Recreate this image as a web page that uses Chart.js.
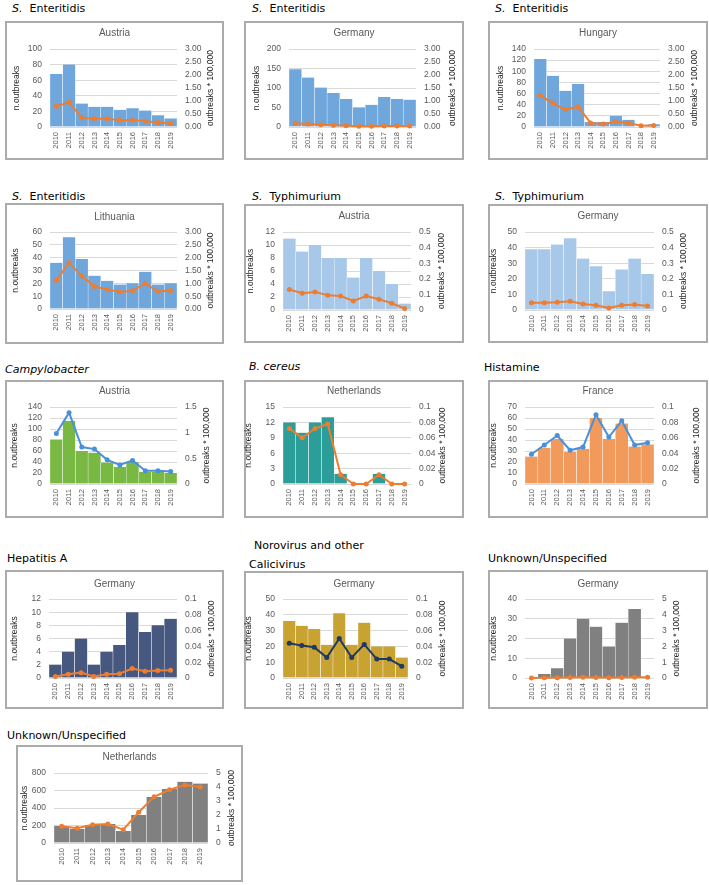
<!DOCTYPE html>
<html>
<head>
<meta charset="utf-8">
<script src="https://cdn.jsdelivr.net/npm/chart.js@4.4.0/dist/chart.umd.min.js"></script>
<style>
  body { margin: 0; background: #fff; width: 709px; height: 885px; position: relative; overflow: hidden; font-family: "DejaVu Sans", sans-serif; }
  .sec { position: absolute; font-size: 11px; line-height: 13px; color: #000; white-space: nowrap; }
  .box { position: absolute; border: 2px solid #ABABAB; box-sizing: border-box; }
  canvas { position: absolute; }
</style>
</head>
<body>
<script>
const years = ['2010', '2011', '2012', '2013', '2014', '2015', '2016', '2017', '2018', '2019'];

// S. Enteritidis
const entAustriaOutbreaks = [68, 80, 30, 26, 26, 22, 24, 21, 15, 11];
const entAustriaRate = [0.80, 0.95, 0.36, 0.32, 0.32, 0.26, 0.27, 0.22, 0.17, 0.13];
const entGermanyOutbreaks = [148, 127, 101, 87, 72, 50, 57, 77, 72, 70];
const entGermanyRate = [0.14, 0.12, 0.09, 0.07, 0.05, 0.03, 0.03, 0.04, 0.04, 0.04];
const entHungaryOutbreaks = [122, 92, 65, 77, 9, 9, 20, 13, 1, 5];
const entHungaryRate = [1.21, 0.92, 0.66, 0.78, 0.15, 0.12, 0.20, 0.15, 0.05, 0.06];
const entLithuaniaOutbreaks = [36, 56, 39, 26, 22, 19, 20, 29, 19, 20];
const entLithuaniaRate = [1.11, 1.80, 1.29, 0.88, 0.76, 0.66, 0.71, 1.00, 0.68, 0.72];

// S. Typhimurium
const typAustriaOutbreaks = [11, 9, 10, 8, 8, 5, 8, 6, 4, 1];
const typAustriaRate = [0.131, 0.107, 0.116, 0.094, 0.09, 0.058, 0.09, 0.069, 0.043, 0.009];
const typGermanyOutbreaks = [39, 39, 42, 46, 33, 28, 12, 26, 33, 23];
const typGermanyRate = [0.047, 0.047, 0.05, 0.056, 0.039, 0.03, 0.013, 0.03, 0.036, 0.026];

// Campylobacter, B. cereus, Histamine
const campyAustriaOutbreaks = [81, 115, 60, 57, 39, 31, 40, 22, 22, 20];
const campyAustriaRate = [0.985, 1.39, 0.72, 0.68, 0.47, 0.37, 0.46, 0.26, 0.26, 0.245];
const cereusNetherlandsOutbreaks = [12, 10, 12, 13, 2, 0, 0, 2, 0, 0];
const cereusNetherlandsRate = [0.072, 0.06, 0.072, 0.078, 0.012, 0, 0, 0.012, 0, 0];
const histamineFranceOutbreaks = [25, 33, 41, 29, 32, 60, 41, 55, 34, 36];
const histamineFranceRate = [0.0386, 0.0506, 0.063, 0.0438, 0.048, 0.09, 0.061, 0.082, 0.0506, 0.0536];

// Hepatitis A, Norovirus, Unknown
const hepGermanyOutbreaks = [2, 4, 6, 2, 4, 5, 10, 7, 8, 9];
const hepGermanyRate = [0.002, 0.0047, 0.0068, 0.002, 0.0047, 0.0055, 0.012, 0.0085, 0.0094, 0.0098];
const noroGermanyOutbreaks = [36, 33, 31, 21, 41, 21, 35, 20, 20, 13];
const noroGermanyRate = [0.044, 0.041, 0.039, 0.026, 0.05, 0.026, 0.0425, 0.024, 0.024, 0.015];
const unkGermanyOutbreaks = [0, 2, 5, 20, 30, 26, 16, 28, 35, 0];
const unkGermanyRate = [0.005, 0.01, 0.01, 0.03, 0.04, 0.035, 0.02, 0.035, 0.045, 0.04];
const unkNetherlandsOutbreaks = [194, 160, 205, 217, 137, 320, 525, 617, 700, 680];
const unkNetherlandsRate = [1.2, 1.05, 1.3, 1.35, 0.95, 2.2, 3.3, 3.8, 4.15, 4.0];

const BLUE = '#6FA6DC', LIGHTBLUE = '#A8C8EA', ORANGE = '#ED7D31', LINEBLUE = '#4A90D9';
const GREEN = '#78B843', TEAL = '#2B9E99', PEACH = '#F29A5C', NAVY = '#475880', GOLD = '#C9A332', DARKNAVY = '#1F3864', GREY = '#808080';
const FONT = '"Liberation Sans", Arial, sans-serif';

const sections = [
  { html: '<i>S.</i>&nbsp; Enteritidis', x: 12, cy: 8 },
  { html: '<i>S.</i>&nbsp; Enteritidis', x: 252, cy: 8 },
  { html: '<i>S.</i>&nbsp; Enteritidis', x: 495, cy: 8 },
  { html: '<i>S.</i>&nbsp; Enteritidis', x: 12, cy: 196 },
  { html: '<i>S.</i>&nbsp; Typhimurium', x: 252, cy: 196 },
  { html: '<i>S.</i>&nbsp; Typhimurium', x: 495, cy: 196 },
  { html: '<i>Campylobacter</i>', x: 5, cy: 369 },
  { html: '<i>B. cereus</i>', x: 249, cy: 366 },
  { html: 'Histamine', x: 484, cy: 367 },
  { html: 'Hepatitis A', x: 7, cy: 558 },
  { html: 'Norovirus and other', x: 254, cy: 545 },
  { html: 'Calicivirus', x: 249, cy: 564 },
  { html: 'Unknown/Unspecified', x: 488, cy: 558 },
  { html: 'Unknown/Unspecified', x: 7, cy: 735 }
];

// box: [x0, y0, x1, y1], plot: [x0, y0, x1, y1], titles: [leftTitleX, rightTitleX, countryCenterY]
const panels = [
  { country: 'Austria', box: [5, 21, 224, 160], plot: [50, 49, 177, 127], titles: [17, 211, 33], bars: entAustriaOutbreaks, line: entAustriaRate, barColor: BLUE, lineColor: ORANGE, left: [100, 20], right: [3, 0.5], fixed: 2 },
  { country: 'Germany', box: [244, 21, 464, 160], plot: [289, 49, 416, 127], titles: [257, 453, 33], bars: entGermanyOutbreaks, line: entGermanyRate, barColor: BLUE, lineColor: ORANGE, left: [200, 50], right: [3, 0.5], fixed: 2 },
  { country: 'Hungary', box: [488, 21, 708, 160], plot: [534, 49, 660, 127], titles: [501, 695, 33], bars: entHungaryOutbreaks, line: entHungaryRate, barColor: BLUE, lineColor: ORANGE, left: [140, 20], right: [3, 0.5], fixed: 2 },
  { country: 'Lithuania', box: [5, 203, 224, 344], plot: [50, 232, 177, 309], titles: [16, 211, 217], bars: entLithuaniaOutbreaks, line: entLithuaniaRate, barColor: BLUE, lineColor: ORANGE, left: [60, 10], right: [3, 0.5], fixed: 2 },
  { country: 'Austria', box: [244, 204, 464, 343], plot: [283, 232, 411, 310], titles: [251, 442, 216], bars: typAustriaOutbreaks, line: typAustriaRate, barColor: LIGHTBLUE, lineColor: ORANGE, left: [12, 2], right: [0.5, 0.1] },
  { country: 'Germany', box: [488, 204, 708, 343], plot: [525, 232, 654, 310], titles: [494, 684, 216], bars: typGermanyOutbreaks, line: typGermanyRate, barColor: LIGHTBLUE, lineColor: ORANGE, left: [50, 10], right: [0.5, 0.1] },
  { country: 'Austria', box: [5, 380, 224, 518], plot: [50, 407, 177, 484], titles: [15, 207, 391], bars: campyAustriaOutbreaks, line: campyAustriaRate, barColor: GREEN, lineColor: LINEBLUE, left: [140, 20], right: [1.5, 0.5] },
  { country: 'Netherlands', box: [244, 380, 464, 518], plot: [283, 407, 411, 484], titles: [249, 443, 391], bars: cereusNetherlandsOutbreaks, line: cereusNetherlandsRate, barColor: TEAL, lineColor: ORANGE, left: [15, 3], right: [0.1, 0.02] },
  { country: 'France', box: [488, 380, 708, 518], plot: [525, 407, 654, 484], titles: [494, 697, 391], bars: histamineFranceOutbreaks, line: histamineFranceRate, barColor: PEACH, lineColor: LINEBLUE, left: [70, 10], right: [0.1, 0.02] },
  { country: 'Germany', box: [5, 570, 224, 709], plot: [49, 599, 177, 678], titles: [15, 212, 584], bars: hepGermanyOutbreaks, line: hepGermanyRate, barColor: NAVY, lineColor: ORANGE, left: [12, 2], right: [0.1, 0.02] },
  { country: 'Germany', box: [244, 571, 464, 709], plot: [283, 599, 408, 678], titles: [249, 443, 584], bars: noroGermanyOutbreaks, line: noroGermanyRate, barColor: GOLD, lineColor: DARKNAVY, left: [50, 10], right: [0.1, 0.02] },
  { country: 'Germany', box: [488, 570, 708, 709], plot: [525, 599, 654, 678], titles: [494, 677, 584], bars: unkGermanyOutbreaks, line: unkGermanyRate, barColor: GREY, lineColor: ORANGE, left: [40, 10], right: [5, 1] },
  { country: 'Netherlands', box: [16, 745, 243, 882], plot: [54, 773, 208, 843], titles: [25, 232, 757], bars: unkNetherlandsOutbreaks, line: unkNetherlandsRate, barColor: GREY, lineColor: ORANGE, left: [800, 200], right: [5, 1] }
];

sections.forEach(s => {
  const d = document.createElement('div');
  d.className = 'sec';
  d.innerHTML = s.html;
  d.style.left = s.x + 'px';
  d.style.top = (s.cy - 6.5) + 'px';
  document.body.appendChild(d);
});

const sideTitles = {
  id: 'sideTitles',
  afterDraw(chart, args, opts) {
    const { ctx, chartArea } = chart;
    const cy = (chartArea.top + chartArea.bottom) / 2;
    ctx.save();
    ctx.font = '8.5px ' + FONT;
    ctx.fillStyle = '#262626';
    ctx.textAlign = 'center';
    ctx.textBaseline = 'middle';
    [[opts.leftX, 'n.outbreaks'], [opts.rightX, 'outbreaks * 100,000']].forEach(([x, t]) => {
      ctx.save();
      ctx.translate(x, cy);
      ctx.rotate(-Math.PI / 2);
      ctx.fillText(t, 0, 0);
      ctx.restore();
    });
    ctx.restore();
  }
};

panels.forEach(p => {
  const [bx0, by0, bx1, by1] = p.box;
  const [px0, py0, px1, py1] = p.plot;
  const w = bx1 - bx0, h = by1 - by0;

  const box = document.createElement('div');
  box.className = 'box';
  Object.assign(box.style, { left: bx0 + 'px', top: by0 + 'px', width: w + 'px', height: h + 'px' });
  document.body.appendChild(box);

  const canvas = document.createElement('canvas');
  canvas.width = w;
  canvas.height = h;
  Object.assign(canvas.style, { left: bx0 + 'px', top: by0 + 'px', width: w + 'px', height: h + 'px' });
  document.body.appendChild(canvas);

  const titleCenter = p.titles[2] - by0;
  const rightFmt = p.fixed ? (v => v.toFixed(p.fixed)) : (v => v === 0 ? '0' : String(+v.toFixed(4)));

  new Chart(canvas.getContext('2d'), {
    data: {
      labels: years,
      datasets: [
        { type: 'line', data: p.line, yAxisID: 'y1', borderColor: p.lineColor, backgroundColor: p.lineColor, borderWidth: 2, pointRadius: 2.5, pointBorderWidth: 0, tension: 0, order: 0, clip: false },
        { type: 'bar', data: p.bars, yAxisID: 'y', backgroundColor: p.barColor, borderColor: '#fff', borderWidth: { left: 0.5, right: 0.5, top: 0, bottom: 0 }, barPercentage: 1, categoryPercentage: 1, order: 1 }
      ]
    },
    options: {
      responsive: false,
      animation: false,
      events: [],
      layout: { padding: 0 },
      plugins: {
        legend: { display: false },
        tooltip: { enabled: false },
        title: { display: true, text: p.country, color: '#595959', font: { family: FONT, size: 10, weight: 'normal' }, padding: { top: titleCenter - 6, bottom: (py0 - by0) - titleCenter - 6 } },
        sideTitles: { leftX: p.titles[0] - bx0, rightX: p.titles[1] - bx0 }
      },
      scales: {
        x: {
          offset: true,
          grid: { display: false, drawTicks: false },
          border: { display: false },
          ticks: { minRotation: 90, maxRotation: 90, autoSkip: false, padding: 5, color: '#595959', font: { family: FONT, size: 7.5 } },
          afterFit: s => { s.height = by1 - py1; }
        },
        y: {
          position: 'left', min: 0, max: p.left[0],
          grid: { color: '#D9D9D9', drawTicks: false },
          border: { display: false },
          ticks: { stepSize: p.left[1], autoSkip: false, padding: 8, color: '#595959', font: { family: FONT, size: 8.5 } },
          afterFit: s => { s.width = px0 - bx0; }
        },
        y1: {
          position: 'right', min: 0, max: p.right[0],
          grid: { display: false, drawTicks: false },
          border: { display: false },
          ticks: { stepSize: p.right[1], autoSkip: false, padding: 8, color: '#595959', font: { family: FONT, size: 8.5 }, callback: rightFmt },
          afterFit: s => { s.width = bx1 - px1; }
        }
      }
    },
    plugins: [sideTitles]
  });
});
</script>
</body>
</html>
